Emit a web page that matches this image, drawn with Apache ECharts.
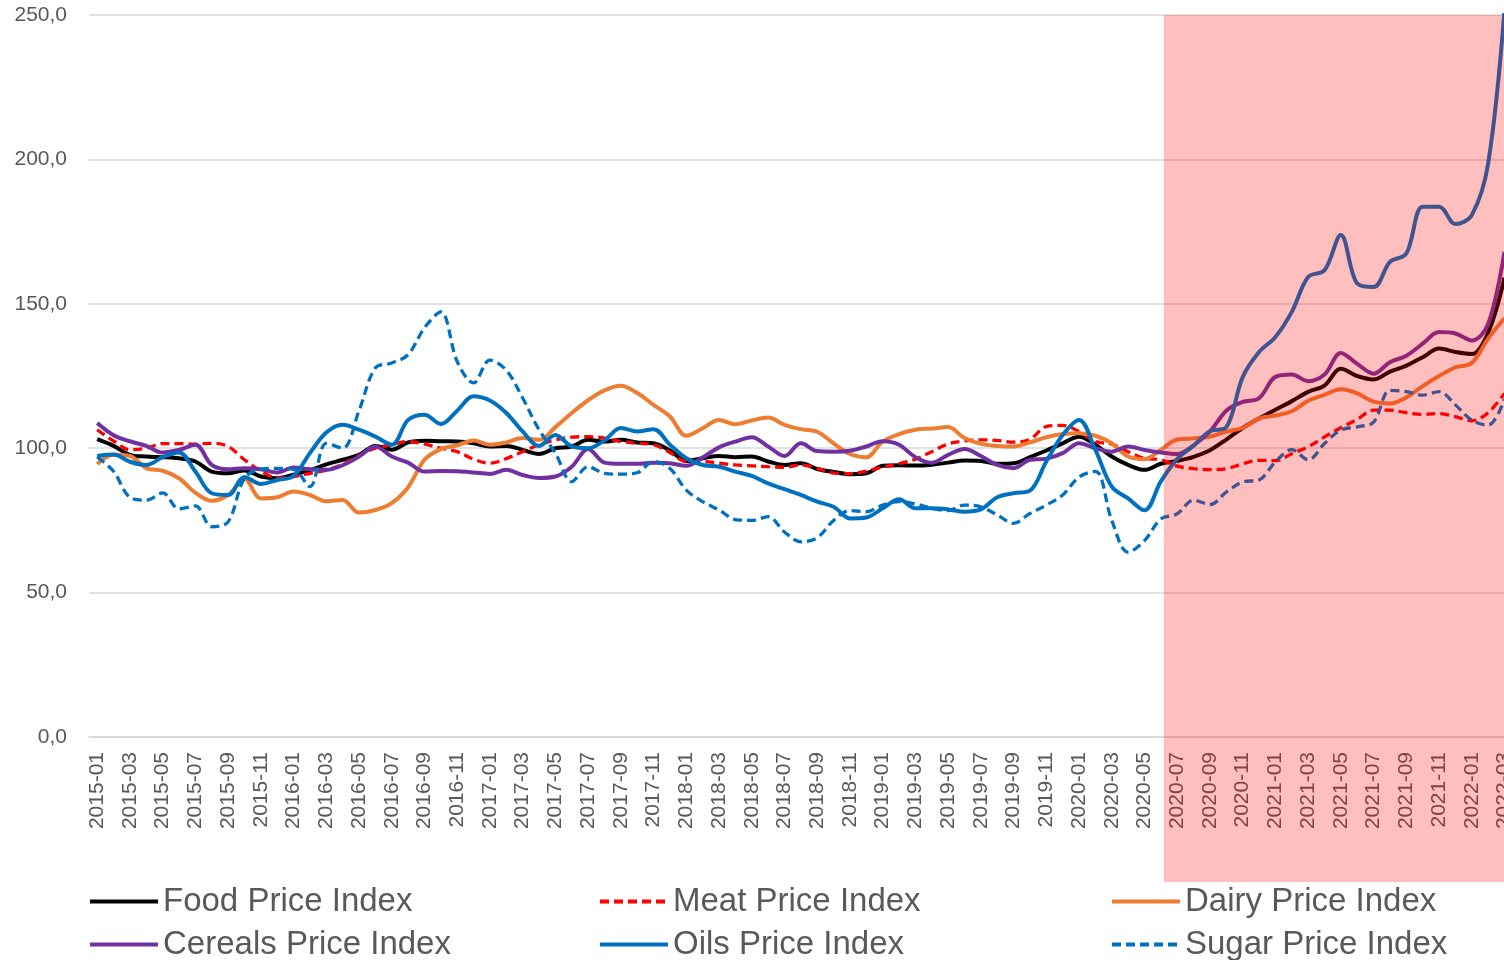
<!DOCTYPE html>
<html>
<head>
<meta charset="utf-8">
<title>Price indices 2015-2022</title>
<script src="https://cdn.jsdelivr.net/npm/echarts@6/dist/echarts.min.js"></script>
<style>
  html, body { margin: 0; padding: 0; background: #fff; overflow: hidden; }
  /* the plot runs a little past the right edge of the window, as in the original */
  #chart { width: 1515px; height: 960px; }
</style>
</head>
<body>
<div id="chart"></div>
<script>
// months 2015-01 .. 2022-03
const months = [];
for (let y = 2015; y <= 2022; y++) {
  for (let m = 1; m <= 12; m++) {
    if (y === 2022 && m > 3) break;
    months.push(y + '-' + String(m).padStart(2, '0'));
  }
}

const yTicks = [0, 50, 100, 150, 200, 250];
const shadeFrom = '2020-06';

// one row per year
const food = [
  103.1, 100.8, 97.7, 97.1, 96.9, 96.5, 95.4, 91.9, 91.3, 92.3, 90.2, 89.6,
  90.8, 92.4, 94.4, 96.0, 97.7, 100.8, 99.5, 102.0, 102.6, 102.4, 102.3, 101.7,
  100.6, 100.8, 99.4, 98.0, 100.0, 100.6, 102.9, 102.3, 102.9, 102.0, 101.7, 99.2,
  95.6, 96.5, 97.3, 96.9, 97.1, 95.4, 94.2, 94.8, 92.8, 91.8, 91.0, 91.3,
  93.9, 94.1, 94.0, 94.3, 95.0, 95.7, 95.6, 94.6, 94.8, 96.9, 99.2, 101.7,
  104.0, 101.2, 97.1, 94.2, 92.5, 94.6, 95.6, 97.0, 99.3, 103.0, 107.0, 110.3,
  113.3, 116.3, 119.5, 121.7, 127.5, 125.0, 123.8, 126.5, 128.6, 131.5, 134.5, 133.3,
  132.6, 140.0, 159.0
];

const meat = [
  106.4, 102.5, 99.5, 100.0, 101.6, 101.6, 101.4, 101.7, 100.6, 96.0, 92.1, 89.7,
  90.2, 91.3, 92.4, 94.4, 97.5, 100.0, 101.2, 102.3, 101.4, 100.0, 98.8, 96.2,
  94.8, 96.4, 98.8, 101.2, 102.9, 103.8, 104.0, 103.5, 102.3, 101.7, 101.2, 98.5,
  95.4, 95.4, 94.8, 94.2, 93.9, 93.6, 93.4, 94.2, 93.0, 91.4, 91.2, 92.1,
  93.5, 94.6, 96.2, 98.8, 101.5, 102.5, 102.9, 102.7, 102.1, 103.1, 107.5, 107.9,
  105.8, 102.3, 101.4, 98.8, 96.5, 96.0, 93.8, 92.9, 92.6, 92.9, 94.6, 95.8,
  95.7, 98.1, 100.5, 103.9, 107.1, 110.0, 113.2, 113.2, 112.3, 111.7, 112.0, 110.9,
  109.5, 112.3, 119.0
];

const dairy = [
  94.5, 97.7, 97.3, 93.1, 92.2, 89.6, 84.6, 81.8, 83.8, 89.4, 82.6, 83.0,
  85.0, 83.8, 81.6, 82.1, 77.7, 78.6, 81.0, 86.5, 96.0, 99.7, 101.0, 102.7,
  101.2, 102.0, 103.5, 102.9, 107.3, 112.2, 116.6, 120.0, 121.6, 119.1, 115.0, 111.0,
  104.3, 106.9, 109.8, 108.3, 109.6, 110.6, 108.1, 106.6, 105.7, 101.7, 98.0, 96.9,
  102.3, 104.9, 106.4, 106.8, 107.3, 103.5, 101.5, 100.8, 100.6, 102.0, 103.8, 104.9,
  105.2, 104.3, 101.7, 97.1, 96.2, 99.5, 103.0, 103.4, 104.0, 105.8, 107.0, 110.3,
  111.3, 112.8, 116.4, 118.5, 120.4, 119.0, 116.1, 115.5, 117.6, 121.5, 125.0, 128.0,
  129.5, 138.0, 145.0
];

const cereals = [
  108.7, 104.5, 102.4, 100.8, 98.5, 99.4, 101.2, 94.2, 92.7, 93.1, 92.7, 91.6,
  93.3, 92.7, 92.5, 94.1, 97.1, 100.6, 97.1, 95.0, 91.9, 92.1, 92.0, 91.6,
  91.1, 92.5, 90.7, 89.7, 90.2, 93.6, 99.7, 95.0, 94.6, 94.6, 95.0, 94.8,
  93.9, 96.8, 100.3, 102.3, 103.8, 100.6, 97.3, 101.7, 99.0, 98.8, 99.1, 100.6,
  102.4, 101.2, 96.9, 95.0, 97.7, 99.7, 97.3, 94.2, 93.1, 96.0, 96.4, 98.3,
  101.7, 100.0, 98.8, 100.6, 99.4, 98.5, 98.0, 101.0, 105.8, 113.0, 116.0, 117.3,
  124.7, 125.5, 123.2, 125.5, 133.0, 129.2, 125.8, 129.8, 132.0, 136.2, 140.2, 139.7,
  137.3, 143.0, 168.0
];

const oils = [
  97.3, 97.8, 95.3, 94.2, 96.9, 98.5, 91.9, 84.4, 83.8, 90.0, 87.6, 89.0,
  90.4, 98.3, 105.4, 108.1, 106.4, 104.0, 101.2, 109.8, 111.6, 108.4, 113.0, 118.0,
  116.5, 112.2, 105.8, 100.8, 104.6, 100.6, 100.0, 102.7, 107.0, 105.8, 106.6, 101.2,
  96.5, 94.2, 93.6, 91.9, 90.4, 87.8, 85.8, 83.8, 81.5, 79.7, 75.7, 76.0,
  79.2, 82.3, 79.2, 79.2, 78.8, 78.0, 78.8, 83.0, 84.4, 85.3, 95.4, 104.6,
  109.8, 99.4, 86.7, 82.6, 78.5, 88.5, 96.3, 100.9, 105.9, 107.3, 124.6, 133.3,
  138.5, 147.2, 159.3, 161.6, 173.8, 157.0, 155.8, 164.5, 167.4, 183.6, 183.6, 177.6,
  180.7, 198.6, 251.8
];

const sugar = [
  97.0, 92.0, 83.0, 82.0, 84.5, 79.0, 80.0, 72.8, 74.5, 89.6, 92.7, 93.0,
  92.7, 86.7, 101.7, 100.0, 113.0, 127.8, 129.5, 132.4, 141.7, 147.2, 130.0, 122.6,
  130.5, 127.0, 117.4, 106.4, 98.3, 88.4, 93.6, 91.3, 91.0, 91.5, 95.4, 93.0,
  85.5, 81.5, 78.6, 75.3, 75.0, 76.3, 71.0, 67.6, 69.0, 75.0, 78.4, 78.0,
  80.3, 81.5, 80.7, 79.2, 78.4, 80.3, 79.7, 76.9, 74.0, 77.4, 80.3, 83.8,
  90.0, 92.0, 75.0, 64.0, 68.0, 75.5, 77.3, 82.0, 80.5, 84.8, 88.3, 89.0,
  95.3, 99.5, 96.0, 101.6, 106.3, 107.4, 109.0, 120.0, 119.6, 118.4, 119.6, 115.0,
  109.7, 108.0, 117.0
];

const FONT = "'Liberation Sans', Arial, sans-serif";
const GREY = '#595959';

function line(name, data, color, dashed) {
  return {
    name: name,
    type: 'line',
    data: data,
    smooth: 0.35,
    symbol: 'none',
    lineStyle: { color: color, width: dashed ? 3.3 : 4, type: dashed ? [9, 5] : 'solid' },
    itemStyle: { color: color }
  };
}

const legendBase = {
  orient: 'vertical',
  top: 885,
  height: 100,
  padding: 0,
  itemWidth: 68,
  itemHeight: 14,
  itemGap: 10,
  itemStyle: { opacity: 0 },
  lineStyle: { width: 4 },
  textStyle: { fontSize: 33, lineHeight: 32, color: GREY, fontFamily: FONT }
};

const chart = echarts.init(document.getElementById('chart'));
chart.setOption({
  animation: false,
  backgroundColor: '#fff',
  grid: { left: 89, right: 0, top: 15, bottom: 223 },
  xAxis: {
    type: 'category',
    data: months,
    axisLine: { lineStyle: { color: '#d9d9d9', width: 1.5 } },
    axisTick: { show: false },
    axisLabel: {
      interval: 1,
      rotate: 90,
      margin: 15,
      fontSize: 21,
      color: GREY,
      fontFamily: FONT
    }
  },
  yAxis: {
    type: 'value',
    min: yTicks[0],
    max: yTicks[yTicks.length - 1],
    interval: 50,
    axisLine: { show: false },
    axisTick: { show: false },
    splitLine: { lineStyle: { color: '#d9d9d9', width: 1.5 } },
    axisLabel: {
      margin: 22,
      fontSize: 21,
      color: GREY,
      fontFamily: FONT,
      formatter: (v) => v.toFixed(1).replace('.', ',')
    }
  },
  legend: [
    { ...legendBase, left: 88, data: ['Food Price Index', 'Cereals Price Index'] },
    { ...legendBase, left: 598, data: ['Meat Price Index', 'Oils Price Index'] },
    { ...legendBase, left: 1110, data: ['Dairy Price Index', 'Sugar Price Index'] }
  ],
  series: [
    line('Food Price Index', food, '#000000', false),
    line('Meat Price Index', meat, '#ff0000', true),
    line('Dairy Price Index', dairy, '#ed7d31', false),
    line('Cereals Price Index', cereals, '#7030a0', false),
    line('Oils Price Index', oils, '#0070c0', false),
    line('Sugar Price Index', sugar, '#0070c0', true)
  ]
});

// translucent red band over the recent period, laid on top of everything
const x0 = chart.convertToPixel({ xAxisIndex: 0 }, shadeFrom) + 3;
const yTop = chart.convertToPixel({ yAxisIndex: 0 }, yTicks[yTicks.length - 1]);
chart.setOption({
  graphic: [{
    type: 'rect',
    silent: true,
    z: 100,
    shape: { x: x0, y: yTop, width: chart.getWidth() - x0 + 20, height: 882 - yTop },
    style: { fill: 'rgba(255,0,0,0.25)' }
  }]
});
</script>
</body>
</html>
